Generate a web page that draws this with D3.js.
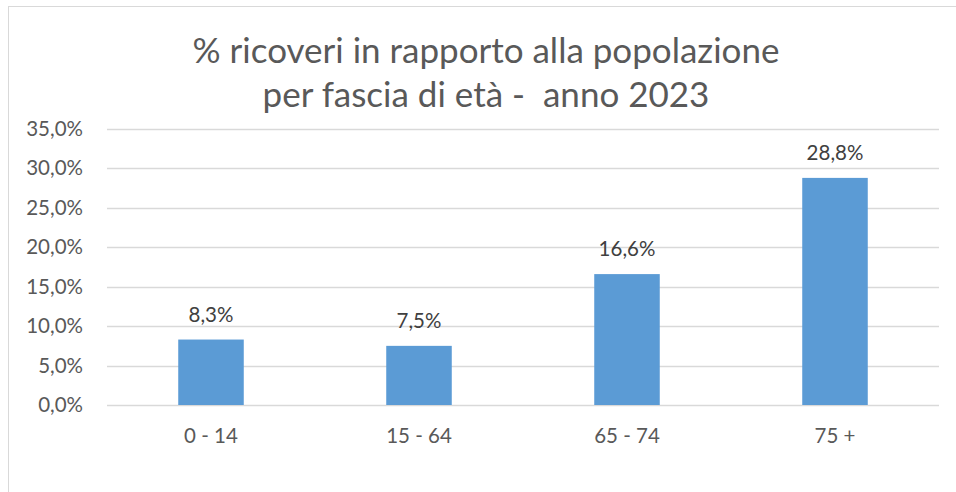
<!DOCTYPE html>
<html>
<head>
<meta charset="utf-8">
<script src="https://cdn.jsdelivr.net/npm/d3@7"></script>
<style>
  body { margin: 0; background: #fff; }
  svg { display: block; font-family: Lato, "Open Sans", sans-serif; }
</style>
</head>
<body>
<div id="chart"></div>
<script>
var categories = ["0 - 14", "15 - 64", "65 - 74", "75 +"]
var values = [8.3, 7.5, 16.6, 28.8]
var yTicks = [0, 5, 10, 15, 20, 25, 30, 35]
var titleLines = ["% ricoveri in rapporto alla popolazione", "per fascia di età -  anno 2023"]

var W = 956, H = 492
var margin = {top: 129, right: 17, bottom: 87, left: 107},
    width = W - margin.left - margin.right,
    height = H - margin.top - margin.bottom

var fmt = function(v) { return v.toFixed(1).replace(".", ",") + "%" }
var fs = "20.5px"

var svg = d3.select("#chart").append("svg")
    .attr("width", W)
    .attr("height", H)

// chart border
svg.append("rect")
    .attr("x", 8.5).attr("y", 6.5)
    .attr("width", W + 10).attr("height", H + 10)
    .attr("fill", "#fff")
    .attr("stroke", "#d9d9d9")

svg.selectAll("text.title")
    .data(titleLines)
    .enter().append("text")
    .attr("class", "title")
    .attr("x", 486)
    .attr("y", function(d, i) { return 63 + i * 44 })
    .attr("text-anchor", "middle")
    .attr("fill", "#595959")
    .style("font-size", "35px")
    .style("white-space", "pre")
    .text(function(d) { return d })

var g = svg.append("g")
    .attr("transform", "translate(" + margin.left + "," + margin.top + ")")

var x = d3.scaleBand().domain(categories).range([0, width]).paddingInner(0.685).paddingOuter(0.3425)
var y = d3.scaleLinear().domain([0, 35]).range([height, 0])

// gridlines
g.selectAll("line.grid")
    .data(yTicks)
    .enter().append("line")
    .attr("x1", 0).attr("x2", width)
    .attr("y1", function(d) { return Math.round(y(d)) + 0.5 })
    .attr("y2", function(d) { return Math.round(y(d)) + 0.5 })
    .attr("stroke", "#d9d9d9")
    .attr("stroke-width", 1.3)

var yAxis = g.append("g")
    .call(d3.axisLeft(y).tickValues(yTicks).tickFormat(fmt).tickSize(0).tickPadding(24))
yAxis.select(".domain").remove()
yAxis.selectAll("text")
    .attr("fill", "#595959")
    .style("font-size", fs)
    .style("font-family", "Lato, 'Open Sans', sans-serif")

var xAxis = g.append("g")
    .attr("transform", "translate(0," + height + ")")
    .call(d3.axisBottom(x).tickSize(0).tickPadding(23))
xAxis.select(".domain").remove()
xAxis.selectAll("text")
    .attr("fill", "#595959")
    .style("font-size", fs)
    .style("font-family", "Lato, 'Open Sans', sans-serif")

g.selectAll("rect.bar")
    .data(values)
    .enter().append("rect")
    .attr("class", "bar")
    .attr("x", function(d, i) { return x(categories[i]) })
    .attr("width", x.bandwidth())
    .attr("y", function(d) { return y(d) })
    .attr("height", function(d) { return height - y(d) })
    .attr("fill", "#5b9bd5")

g.selectAll("text.label")
    .data(values)
    .enter().append("text")
    .attr("class", "label")
    .attr("x", function(d, i) { return x(categories[i]) + x.bandwidth() / 2 })
    .attr("y", function(d) { return y(d) - 18 })
    .attr("text-anchor", "middle")
    .attr("fill", "#404040")
    .style("font-size", fs)
    .text(fmt)
</script>
</body>
</html>
